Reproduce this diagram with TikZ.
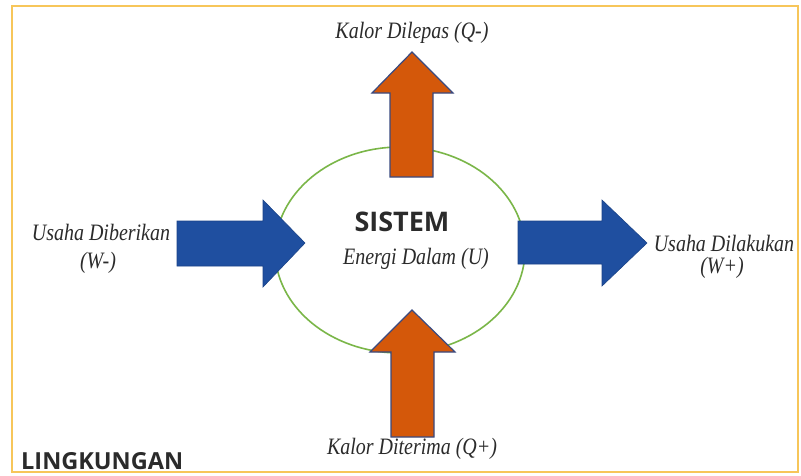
\documentclass[tikz,border=0pt]{standalone}
\usepackage{fontspec}
\setmainfont{Liberation Serif}[FakeStretch=0.85]
\newfontfamily\calfont{Open Sans}
\usepackage{tikz}
\usetikzlibrary{positioning}
\definecolor{ink}{HTML}{2B2B2B}
\definecolor{frame1}{HTML}{F7C65A}
\definecolor{green1}{HTML}{7AB648}
\definecolor{blue1}{HTML}{1F4FA0}
\definecolor{orange1}{HTML}{D4580A}
\definecolor{edge1}{HTML}{3A4A80}
\tikzset{
  lbl/.style={ink, font=\fontsize{23.5}{26}\selectfont\itshape, inner sep=0pt, align=center},
  head/.style={ink, font=\fontsize{27}{30}\selectfont\calfont\bfseries, inner sep=0pt},
  workarrow/.style={fill=blue1, draw=blue1!85!black, line width=0.6pt},
  heatarrow/.style={fill=orange1, draw=edge1, line width=1.2pt, line join=miter}
}

\begin{document}
\begin{tikzpicture}[x=1pt,y=-1pt]
  \useasboundingbox (0,0) rectangle (801,475);
  \fill[white] (0,0) rectangle (801,475);
  \draw[frame1, line width=2.2pt] (12,6) rectangle (798,472);
  % system boundary
  \draw[green1, line width=1.6pt] (400,250) ellipse [x radius=125, y radius=103];
  % work arrows
  \draw[workarrow] (177,221) -- (263,221) -- (263,200) -- (305,243) -- (263,287) -- (263,266) -- (177,266) -- cycle;
  \draw[workarrow] (518,221) -- (602,221) -- (602,200) -- (647,243) -- (602,286) -- (602,264) -- (518,264) -- cycle;
  % heat arrows
  \draw[heatarrow] (390,177) -- (390,93) -- (372,93) -- (412,52) -- (453,93) -- (433,93) -- (433,177) -- cycle;
  \draw[heatarrow] (391,437) -- (391,352) -- (370,352) -- (412,310) -- (455,352) -- (434,352) -- (434,437) -- cycle;
  % texts
  \node[head] (sistem) at (402,222) {SISTEM};
  \node[lbl] (energi) at (416,259) {Energi Dalam (U)};
  \node[lbl] (lepas) at (412,33) {Kalor Dilepas (Q-)};
  \node[lbl] (terima) at (412,449) {Kalor Diterima (Q+)};
  \node[lbl] (beri) at (101,232) {Usaha Diberikan};
  \node[lbl] (wmin) at (98,263) {(W-)};
  \node[lbl] (laku) at (724,243) {Usaha Dilakukan};
  \node[lbl] (wplus) at (722,268) {(W+)};
  \node[head, anchor=west, font=\fontsize{23.5}{26}\selectfont\calfont\bfseries] (env) at (21,461) {LINGKUNGAN};
\end{tikzpicture}
\end{document}
